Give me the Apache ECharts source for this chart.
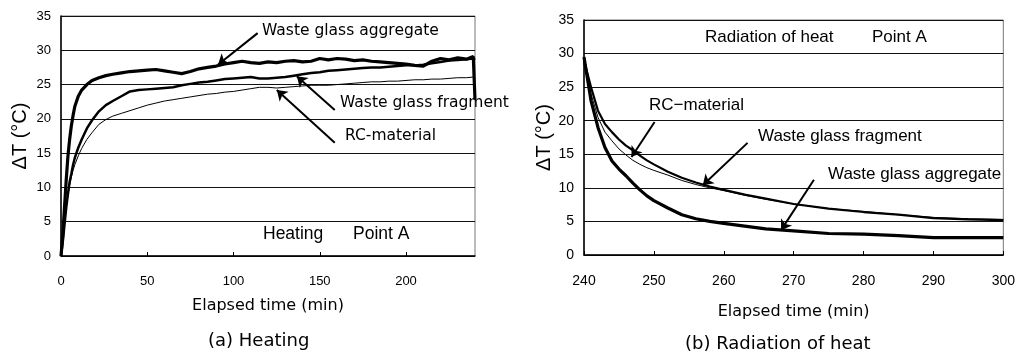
<!DOCTYPE html>
<html>
<head>
<meta charset="utf-8">
<script src="https://cdn.jsdelivr.net/npm/echarts@6/dist/echarts.min.js"></script>
<style>
html,body{margin:0;padding:0;background:#fff;}
#main{width:1018px;height:357px;}
</style>
</head>
<body>
<div id="main"></div>
<script>
// (a) heating, elapsed time (min)
var heatTime = [0,1,2,3,4,5,6,7,8,10,12,15,18,22,26,30,35,40,45,50,55,60,65,70,75,80,85,90,95,100,105,110,115,120,125,130,135,140,145,150,155,160,165,170,175,180,185,190,195,200,205,210,215,220,225,230,235,239,240];
var heatAggregate = [0,3,7,11,14.5,17,19,20.5,21.8,23.3,24.2,25,25.6,26,26.3,26.5,26.7,26.9,27,27.1,27.2,27,26.8,26.6,26.9,27.3,27.5,27.7,28,28.2,28.4,28.2,28.1,28.3,28.2,28.4,28.5,28.3,28.4,28.8,28.6,28.8,28.7,28.5,28.6,28.4,28.3,28.2,28.1,28,27.8,27.7,28.4,28.8,28.6,28.9,28.7,29.1,22.8];
var heatFragment = [0,2,4.5,7,9,10.8,12,13.3,14.3,15.8,17,18.6,19.8,21.1,22,22.6,23.3,24,24.2,24.3,24.4,24.5,24.6,24.9,25.1,25.3,25.4,25.6,25.8,25.9,26,26.1,25.9,25.9,26,26.1,26.3,26.5,26.7,26.8,27,27.1,27.2,27.3,27.4,27.5,27.5,27.6,27.7,27.8,27.8,27.9,28.1,28.3,28.5,28.6,28.7,28.8,28.6];
var heatRC = [0,2,4.5,7,8.8,10.3,11.5,12.5,13.3,14.6,15.7,17,18,19.2,19.9,20.4,20.8,21.2,21.6,22,22.3,22.6,22.8,23,23.2,23.4,23.6,23.7,23.9,24,24.2,24.4,24.6,24.6,24.5,24.6,24.7,24.8,24.9,24.9,24.9,25,25.1,25.2,25.3,25.4,25.4,25.5,25.5,25.6,25.7,25.7,25.8,25.8,25.9,26,26,26.1,26.1];

// (b) radiation of heat
var coolTime = [240,241,242,243,244,245,246,247,248,249,250,252,254,256,258,260,263,266,270,275,280,285,290,295,300];
var coolAggregate = [29.5,23,19,16,14,12.8,11.8,10.7,9.7,8.8,8.1,7,6,5.4,5,4.7,4.3,3.9,3.6,3.2,3.1,2.9,2.6,2.6,2.6];
var coolFragment = [29,25,21.5,19.5,18.3,17.2,16.3,15.6,14.8,14.1,13.5,12.4,11.5,10.8,10.2,9.7,9,8.4,7.6,6.9,6.4,6,5.5,5.3,5.2];
var coolRC = [28.5,24,20.5,18.3,17,15.8,14.9,14.1,13.5,13,12.6,11.9,11.1,10.5,10,9.6,8.9,8.3,7.6,6.9,6.5,6,5.6,5.4,5.3];

// arrows: [from x, from y, to x, to y] in data units
var heatArrows = [[114,32.5,91,27.9],[158.7,21.3,136.7,26.2],[158.7,16.5,125.1,24.2]];
var coolArrows = [[250.1,19.8,246.8,14.6],[263.4,16.7,257,10.4],[272.9,11.2,268.2,3.7]];

function zip(t, v){
	return t.map(function(x, i){ return [x, v[i]]; });
}
function arrows(list){
	return list.map(function(a){
		return [{coord:[a[0],a[1]]},{coord:[a[2],a[3]]}];
	});
}

var chart = echarts.init(document.getElementById('main'));
var gothic = '"Liberation Sans", Arial, sans-serif';
var tahoma = '"DejaVu Sans", Verdana, sans-serif';

function xAxisOf(idx, min, max, interval, gap, fs){
	return {
		type:'value', gridIndex:idx, min:min, max:max, interval:interval,
		name:'Elapsed time (min)', nameLocation:'middle', nameGap:gap,
		nameTextStyle:{fontFamily:tahoma, fontSize:16, color:'#000'},
		axisLine:{lineStyle:{color:'#000', width:1.5}},
		axisTick:{inside:true, length:4, lineStyle:{color:'#000'}},
		axisLabel:{margin:19, color:'#000', fontFamily:gothic, fontSize:fs, showMaxLabel:idx===1},
		splitLine:{show:false}
	};
}
function yAxisOf(idx, gap, fs){
	return {
		type:'value', gridIndex:idx, min:0, max:35, interval:5,
		name:'\u0394T (\u00b0C)', nameLocation:'middle', nameGap:gap,
		nameTextStyle:{fontFamily:gothic, fontSize:20, color:'#000'},
		axisLine:{lineStyle:{color:'#000', width:1.5}},
		axisTick:{show:false},
		axisLabel:{margin:10, color:'#000', fontFamily:gothic, fontSize:fs},
		splitLine:{lineStyle:{color:'#111', width:1}}
	};
}
function lineOf(name, x, y, data, w, marks){
	var s = {
		name:name, type:'line', xAxisIndex:x, yAxisIndex:y, data:data,
		showSymbol:false, symbol:'none', smooth:false,
		lineStyle:{color:'#000', width:w}
	};
	if (marks) {
		s.markLine = {
			silent:true, symbol:['none','arrow'], symbolSize:10,
			label:{show:false},
			lineStyle:{color:'#000', width:2, type:'solid'},
			data:marks
		};
	}
	return s;
}

var option = {
	animation:false,
	backgroundColor:'#fff',
	grid:[
		{left:61, top:16, width:414, height:240, show:true, borderColor:'#777', borderWidth:1},
		{left:584, top:20, width:421, height:235, show:true, borderColor:'#777', borderWidth:1}
	],
	xAxis:[xAxisOf(0,0,240,50,42,13), xAxisOf(1,240,300,10,49,14)],
	yAxis:[yAxisOf(0,31,13), yAxisOf(1,29,14)],
	series:[
		lineOf('RC-material',0,0,zip(heatTime,heatRC),1,arrows(heatArrows)),
		lineOf('Waste glass fragment',0,0,zip(heatTime,heatFragment),2.5),
		lineOf('Waste glass aggregate',0,0,zip(heatTime,heatAggregate),3.2),
		lineOf('RC-material',1,1,zip(coolTime,coolRC),1,arrows(coolArrows)),
		lineOf('Waste glass fragment',1,1,zip(coolTime,coolFragment),2.2),
		lineOf('Waste glass aggregate',1,1,zip(coolTime,coolAggregate),3.2)
	],
	graphic:[
		{type:'text', left:262, top:23, style:{text:'Waste glass aggregate', font:'15.5px ' + tahoma, fill:'#000'}},
		{type:'text', left:340, top:95, style:{text:'Waste glass fragment', font:'15.5px ' + tahoma, fill:'#000'}},
		{type:'text', left:345, top:128, style:{text:'RC-material', font:'15.5px ' + tahoma, fill:'#000'}},
		{type:'text', left:263, top:225, style:{text:'Heating', font:'17.5px ' + gothic, fill:'#000'}},
		{type:'text', left:353, top:225, style:{text:'Point A', font:'17.5px ' + gothic, fill:'#000'}},
		{type:'text', left:705, top:29, style:{text:'Radiation of heat', font:'17px ' + gothic, fill:'#000'}},
		{type:'text', left:872, top:29, style:{text:'Point A', font:'17px ' + gothic, fill:'#000'}},
		{type:'text', left:649, top:97, style:{text:'RC\u2212material', font:'17px ' + gothic, fill:'#000'}},
		{type:'text', left:758, top:128, style:{text:'Waste glass fragment', font:'17px ' + gothic, fill:'#000'}},
		{type:'text', left:828, top:166, style:{text:'Waste glass aggregate', font:'17px ' + gothic, fill:'#000'}},
		{type:'text', left:208, top:332, style:{text:'(a) Heating', font:'18px ' + tahoma, fill:'#000'}},
		{type:'text', left:685, top:335, style:{text:'(b) Radiation of heat', font:'18px ' + tahoma, fill:'#000'}}
	]
};
chart.setOption(option);
</script>
</body>
</html>
